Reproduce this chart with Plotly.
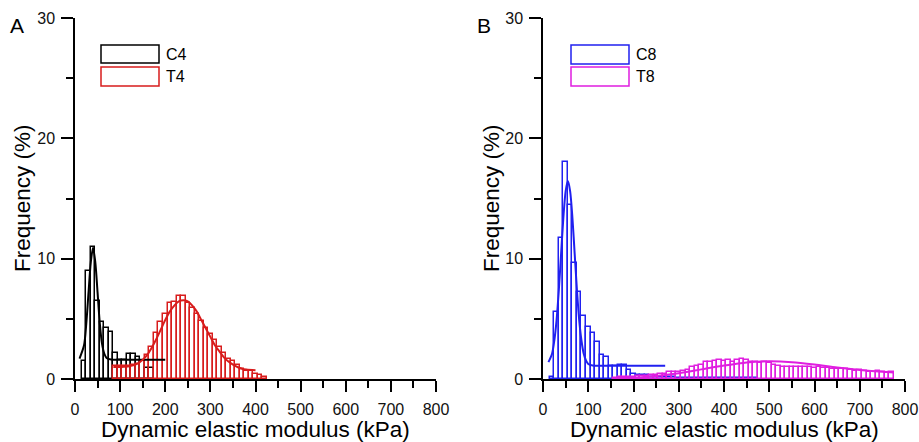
import plotly.graph_objects as go

# ---- data ----
# left panel (A): bin centres in kPa, frequency in %
c4_x = [20, 30, 40, 50, 60, 70, 80, 90, 100, 110, 120, 130, 140, 150, 160, 170]
c4_y = [1.5, 9.0, 11.0, 6.5, 4.7, 4.2, 3.9, 2.2, 1.6, 1.6, 2.1, 2.05, 1.85, 1.5, 0.9, 0.9]

t4_x = list(range(90, 430, 10))
t4_y = [1.05, 1.05, 1.05, 1.1, 1.2, 1.25, 1.5, 2.0, 2.7, 3.8, 4.7, 5.4, 6.3, 6.4,
        6.9, 6.9, 6.3, 5.9, 5.4, 4.8, 4.25, 3.7, 3.2, 2.7, 2.2, 1.7, 1.5, 1.15,
        0.85, 0.7, 0.65, 0.4, 0.3, 0.2]

# fitted curves, points
c4_fit_x = [10, 20, 25, 30, 35, 40, 45, 50, 55, 60, 65, 70, 80, 100, 150, 200]
c4_fit_y = [1.7, 2.8, 4.6, 7.2, 9.7, 10.9, 9.7, 7.2, 4.6, 2.9, 2.1, 1.75, 1.62, 1.6, 1.6, 1.6]

t4_fit_x = [85, 100, 120, 140, 150, 160, 170, 180, 190, 200, 210, 220, 230, 240, 250,
            260, 270, 280, 290, 300, 310, 320, 330, 340, 350, 360, 370, 380, 400]
t4_fit_y = [1.0, 1.0, 1.05, 1.3, 1.6, 2.0, 2.6, 3.3, 4.1, 4.9, 5.6, 6.1, 6.45, 6.55, 6.45,
            6.1, 5.6, 4.9, 4.2, 3.5, 2.8, 2.3, 1.8, 1.45, 1.2, 1.0, 0.85, 0.78, 0.72]

# right panel (B)
c8_x = list(range(20, 480, 10))
c8_y = [0.2, 5.55, 11.7, 18.05, 14.45, 9.65, 7.2, 5.2, 4.35, 3.85, 3.05, 2.0, 1.85,
        1.1, 1.1, 1.2, 1.15, 0.75, 0.4, 0.35, 0.3, 0.35, 0.2, 0.25, 0.2, 0.2, 0.15,
        0.15, 0.1, 0.1, 0.1, 0.1, 0.1, 0.1, 0.05, 0.1, 0.05, 0.05, 0.1, 0.05, 0.05,
        0.05, 0.05, 0.05, 0.05, 0.05]

t8_x = list(range(160, 780, 10))
t8_y = [0.1, 0.15, 0.15, 0.2, 0.2, 0.25, 0.25, 0.25, 0.3, 0.33, 0.4, 0.4, 0.55, 0.55,
        0.6, 0.67, 0.75, 0.97, 1.08, 1.17, 1.4, 1.4, 1.53, 1.58, 1.53, 1.58, 1.45,
        1.58, 1.67, 1.6, 1.45, 1.45, 1.35, 1.4, 1.3, 1.2, 1.1, 1.03, 1.0, 1.0, 1.03,
        0.97, 1.0, 0.97, 0.95, 1.0, 0.95, 0.9, 0.83, 0.8, 0.83, 0.8, 0.75, 0.7, 0.75,
        0.7, 0.6, 0.6, 0.7, 0.55, 0.5, 0.6]

c8_fit_x = [12, 20, 25, 30, 35, 40, 45, 50, 55, 60, 65, 70, 75, 80, 85, 90, 95, 100, 110, 120, 270]
c8_fit_y = [1.4, 2.1, 3.2, 4.9, 7.4, 10.4, 13.4, 15.6, 16.45, 15.6, 13.4, 10.4, 7.4, 4.9,
            3.2, 2.1, 1.55, 1.25, 1.12, 1.1, 1.1]

t8_fit_x = [160, 200, 250, 300, 350, 400, 450, 500, 550, 600, 650, 700, 750, 775]
t8_fit_y = [0.05, 0.12, 0.25, 0.48, 0.8, 1.12, 1.38, 1.47, 1.4, 1.2, 0.95, 0.75, 0.6, 0.55]

x_ticks = [0, 100, 200, 300, 400, 500, 600, 700, 800]
y_ticks = [0, 10, 20, 30]

BLACK = "#000000"
RED = "#d81c1c"
BLUE = "#2020f0"
MAGENTA = "#e01ee0"
FONT = "Arial, Liberation Sans, sans-serif"

W, H = 919, 442


def px(x):
    return x / W


def py(y):
    return 1 - y / H


def bars(x, y, color, xa, ya):
    return go.Bar(x=x, y=y, width=10, xaxis=xa, yaxis=ya,
                  marker=dict(color="rgba(0,0,0,0)", line=dict(color=color, width=1.5)),
                  showlegend=False)


def curve(x, y, color, xa, ya):
    return go.Scatter(x=x, y=y, mode="lines", xaxis=xa, yaxis=ya,
                      line=dict(color=color, width=2, shape="spline", smoothing=0.8),
                      showlegend=False)


fig = go.Figure()
fig.add_trace(bars(c4_x, c4_y, BLACK, "x", "y"))
fig.add_trace(curve(c4_fit_x, c4_fit_y, BLACK, "x", "y"))
fig.add_trace(bars(t4_x, t4_y, RED, "x", "y"))
fig.add_trace(curve(t4_fit_x, t4_fit_y, RED, "x", "y"))

fig.add_trace(bars(c8_x, c8_y, BLUE, "x2", "y2"))
fig.add_trace(curve(c8_fit_x, c8_fit_y, BLUE, "x2", "y2"))
fig.add_trace(bars(t8_x, t8_y, MAGENTA, "x2", "y2"))
fig.add_trace(curve(t8_fit_x, t8_fit_y, MAGENTA, "x2", "y2"))

xax = dict(range=[0, 800], tickvals=x_ticks, showline=True, linecolor="black", linewidth=1.5,
           ticks="outside", ticklen=11, tickwidth=1.5, tickcolor="black",
           minor=dict(dtick=50, tick0=0, ticks="outside", ticklen=7, tickwidth=1.5, tickcolor="black"),
           showgrid=False, zeroline=False, automargin=False, fixedrange=True,
           tickfont=dict(family=FONT, size=16, color="#111"), ticklabelstandoff=4)
yax = dict(range=[0, 30], tickvals=y_ticks, showline=True, linecolor="black", linewidth=1.5,
           ticks="outside", ticklen=12, tickwidth=1.5, tickcolor="black",
           minor=dict(dtick=5, tick0=0, ticks="outside", ticklen=7, tickwidth=1.5, tickcolor="black"),
           showgrid=False, zeroline=False, automargin=False, fixedrange=True,
           tickfont=dict(family=FONT, size=16, color="#111"), ticklabelstandoff=3,
           domain=[1 - 379 / H, 1 - 18 / H])

fig.update_layout(
    width=W, height=H,
    margin=dict(l=0, r=0, t=0, b=0),
    paper_bgcolor="white", plot_bgcolor="white",
    barmode="overlay", bargap=0,
    showlegend=False,
    xaxis=dict(xax, domain=[px(75), px(436)], anchor="y"),
    yaxis=dict(yax, anchor="x"),
    xaxis2=dict(xax, domain=[px(543), px(905)], anchor="y2"),
    yaxis2=dict(yax, anchor="x2"),
)

ann = []
xtitle = "Dynamic elastic modulus (kPa)"
for cx in [(75 + 436) / 2, (543 + 905) / 2]:
    ann.append(dict(text=xtitle, x=px(cx), y=py(429), xref="paper", yref="paper",
                    xanchor="center", yanchor="middle", showarrow=False,
                    font=dict(family=FONT, size=22.5, color="black")))
for cx in [23, 492]:
    ann.append(dict(text="Frequency (%)", x=px(cx), y=py(198), xref="paper", yref="paper",
                    xanchor="center", yanchor="middle", showarrow=False, textangle=-90,
                    font=dict(family=FONT, size=22.5, color="black")))
for letter, cx in [("A", 17), ("B", 484)]:
    ann.append(dict(text=letter, x=px(cx), y=py(25), xref="paper", yref="paper",
                    xanchor="center", yanchor="middle", showarrow=False,
                    font=dict(family=FONT, size=21, color="black")))

# legend boxes drawn as outlined rectangles, like the source figure
shapes = []
legend_items = [
    ("C4", BLACK, 101, 159, 45, 63),
    ("T4", RED, 101, 159, 67, 86),
    ("C8", BLUE, 571, 629, 45, 64),
    ("T8", MAGENTA, 571, 629, 67, 86),
]
for name, col, x0, x1, y0, y1 in legend_items:
    shapes.append(dict(type="rect", xref="paper", yref="paper",
                       x0=px(x0), x1=px(x1), y0=py(y1), y1=py(y0),
                       line=dict(color=col, width=1.5), fillcolor="rgba(0,0,0,0)"))
    ann.append(dict(text=name, x=px(x1 + 5), y=py((y0 + y1) / 2), xref="paper", yref="paper",
                    xanchor="left", yanchor="middle", showarrow=False,
                    font=dict(family=FONT, size=16, color="black")))

fig.update_layout(annotations=ann, shapes=shapes)

# the page body has a default 8px margin; drop it so the figure fills the window
fig.write_html("out.html", config={"displayModeBar": False},
               post_script="document.body.style.margin='0';")
